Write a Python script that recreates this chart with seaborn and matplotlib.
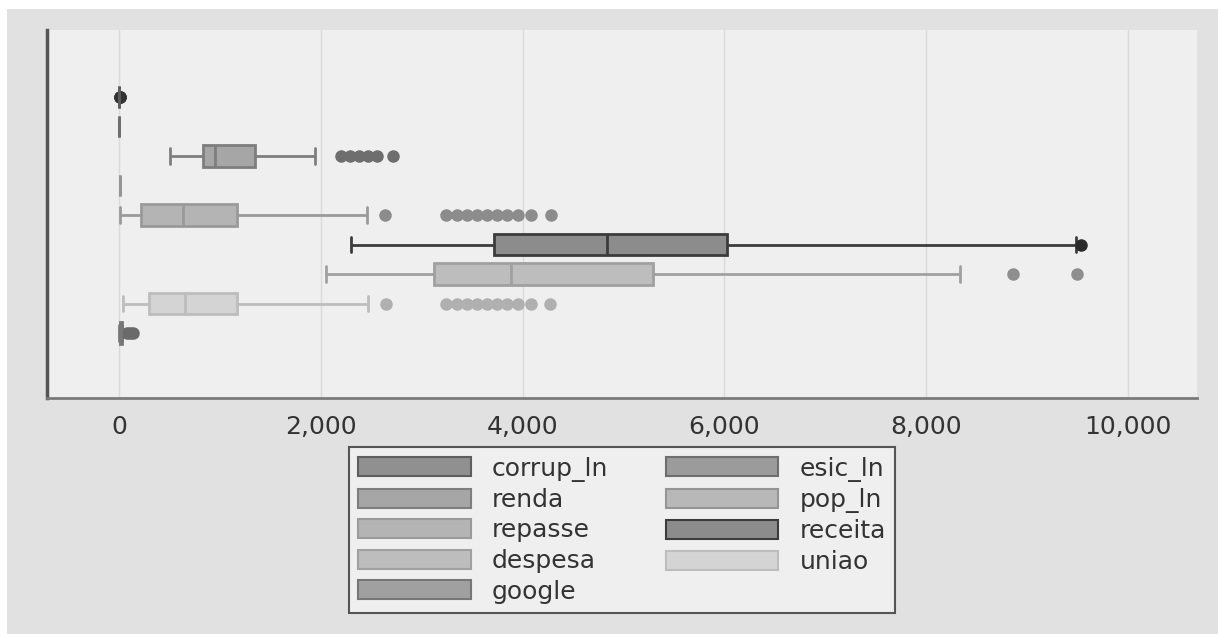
import numpy as np
import pandas as pd
import matplotlib
matplotlib.use('Agg')
import matplotlib.pyplot as plt
from matplotlib.patches import Patch, Rectangle
import seaborn as sns

#%% data
names = ['corrup_ln', 'esic_ln', 'renda', 'pop_ln', 'repasse',
         'receita', 'despesa', 'uniao', 'google']

corrup_ln = [0.5, 1.2, 1.8, 2.1, 2.3, 2.5, 2.7, 2.9, 3.1, 3.4, 6.5, 7.5, 9.0]
esic_ln = [1.0, 1.5, 2.0, 2.3, 2.6, 3.0, 3.5]
renda = [505, 600, 680, 740, 780, 805, 820,
         832,
         850, 870, 890, 910, 925, 940,
         951,
         1010, 1080, 1150, 1220, 1280, 1320,
         1348,
         1942, 2200, 2290, 2380, 2470, 2560, 2720]
pop_ln = [8.5, 9.0, 9.4, 9.8, 10.2, 10.8, 11.5]
repasse = [10, 20, 35, 50, 70, 90, 110, 130, 150, 170, 185, 200, 210,
           220,
           250, 290, 330, 370, 410, 450, 490, 520, 550, 580, 600, 620,
           634,
           680, 720, 760, 800, 850, 900, 950, 1000, 1050, 1090, 1120, 1150,
           1170,
           1600, 2458, 2640, 3240, 3350, 3450, 3550, 3650, 3750, 3850, 3950, 4080, 4280]
receita = [2299, 2900, 3400, 3720, 4200, 4500, 4832, 5300, 5700, 6030, 7500, 9480, 9530]
despesa = [2050, 2400, 2700, 2950, 3120, 3300, 3500, 3700, 3888,
           4200, 4600, 5000, 5292, 6500, 8335, 8860, 9491]
uniao = [44, 70, 100, 130, 160, 190, 210, 230, 250, 265, 275, 285, 292,
         297,
         330, 370, 410, 450, 490, 520, 550, 580, 600, 620, 635, 648,
         658,
         700, 740, 780, 820, 870, 920, 970, 1020, 1070, 1110, 1140, 1160,
         1174,
         1650, 2468, 2650, 3240, 3350, 3450, 3550, 3650, 3750, 3850, 3950, 4080, 4270]
google = [5, 8, 12, 15, 18, 22, 25, 28, 32, 35, 80, 110, 140]

x_ticks = [0, 2000, 4000, 6000, 8000, 10000]

fills = ['#909090', '#9b9b9b', '#a6a6a6', '#b8b8b8', '#b4b4b4',
         '#8c8c8c', '#bdbdbd', '#d4d4d4', '#a0a0a0']
lines = ['#5e5e5e', '#6e6e6e', '#7e7e7e', '#959595', '#9a9a9a',
         '#3c3c3c', '#a0a0a0', '#bdbdbd', '#777777']
marks = ['#333333', '#6e6e6e', '#6e6e6e', '#959595', '#8c8c8c',
         '#2a2a2a', '#8f8f8f', '#b0b0b0', '#6a6a6a']

#%%
series = [corrup_ln, esic_ln, renda, pop_ln, repasse, receita, despesa, uniao, google]
df = pd.concat([pd.DataFrame({'var': n, 'value': s}) for n, s in zip(names, series)],
               ignore_index=True)

sns.set_style('white')
plt.rcParams['font.family'] = ['DejaVu Sans']

fig = plt.figure(figsize=(12.18, 6.34), dpi=100, facecolor='#e1e1e1')
# white strip at the top and left, like the exported graph
fig.patches.append(Rectangle((0, 1 - 9/634), 1, 9/634, transform=fig.transFigure,
                             facecolor='white', edgecolor='none', zorder=0))
fig.patches.append(Rectangle((0, 0), 7/1218, 1, transform=fig.transFigure,
                             facecolor='white', edgecolor='none', zorder=0))

ax = fig.add_axes([47/1218, 1 - 398/634, 1150/1218, 368/634])
ax.set_facecolor('#efefef')

sns.boxplot(data=df, x='value', y='var', hue='var', order=names, hue_order=names,
            palette=dict(zip(names, fills)), saturation=1, width=0.74,
            fliersize=8, linewidth=2, legend=False, ax=ax,
            flierprops=dict(marker='o'))

for i, cont in enumerate(ax.containers):
    for b in cont.boxes:
        b.set_facecolor(fills[i])
        b.set_edgecolor(lines[i])
        b.set_linewidth(2)
    for l in list(cont.whiskers) + list(cont.medians):
        l.set_color(lines[i])
        l.set_linewidth(2)
    for c in cont.caps:
        c.set_color(lines[i])
        c.set_linewidth(2)
        yc = np.mean(c.get_ydata())
        c.set_ydata([yc - 0.26, yc + 0.26])
    for f in cont.fliers:
        f.set_marker('o')
        f.set_markerfacecolor(marks[i])
        f.set_markeredgecolor(marks[i])
        f.set_markersize(8)

ax.set_xlim(-713, 10684)
ax.set_ylim(10.2, -2.27)
ax.set_xticks(x_ticks)
ax.set_xticklabels([f'{t:,}' for t in x_ticks], fontsize=18, color='#333333')
ax.set_yticks([])
ax.set_xlabel('')
ax.set_ylabel('')
ax.grid(axis='x', color='#dadada', linewidth=1)
ax.set_axisbelow(True)
ax.tick_params(axis='x', length=5, width=1.2, color='#555555', pad=7)
for s in ['top', 'right']:
    ax.spines[s].set_visible(False)
ax.spines['left'].set_color('#555555')
ax.spines['left'].set_linewidth(2.5)
ax.spines['bottom'].set_color('#7a7a7a')
ax.spines['bottom'].set_linewidth(2)

#%% legend, row-major like the original
col1 = [0, 2, 4, 6, 8]
col2 = [1, 3, 5, 7]
handles = [Patch(facecolor=fills[i], edgecolor=lines[i], linewidth=1.5) for i in col1 + col2]
labels = [names[i] for i in col1 + col2]
leg = fig.legend(handles, labels, ncol=2, loc='upper center',
                 bbox_to_anchor=((47 + 1197) / 2 / 1218, 1 - 447/634),
                 bbox_transform=fig.transFigure, fontsize=18,
                 handlelength=4.5, handleheight=0.8, handletextpad=0.85,
                 columnspacing=2.3, labelspacing=0.26, borderpad=0.38,
                 borderaxespad=0, frameon=True, fancybox=False,
                 facecolor='#efefef', edgecolor='#555555', framealpha=1)
leg.get_frame().set_linewidth(1.5)
for t in leg.get_texts():
    t.set_color('#333333')

fig.savefig('out.png', dpi=100, facecolor=fig.get_facecolor())
